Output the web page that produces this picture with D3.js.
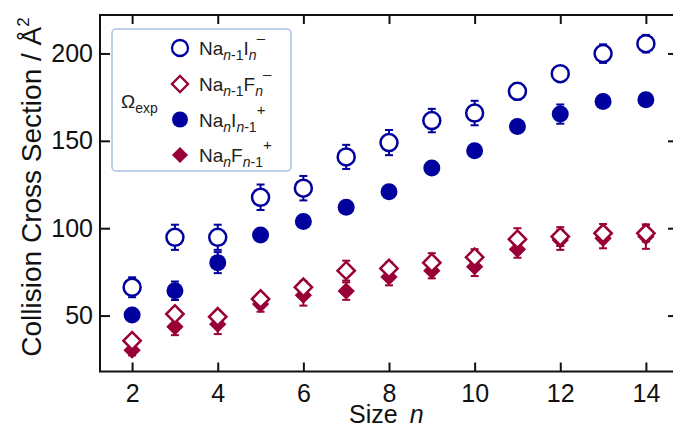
<!DOCTYPE html>
<html>
<head>
<meta charset="utf-8">
<script src="https://cdnjs.cloudflare.com/ajax/libs/d3/7.8.5/d3.min.js"></script>
<style>
  body { margin: 0; background: #fff; }
  svg { display: block; font-family: "Liberation Sans", Arial, sans-serif; }
  .axis path, .axis line { stroke: #111; stroke-width: 2; }
  .axis text { font-size: 25px; fill: #111; }
</style>
</head>
<body>
<svg id="chart" width="673" height="428"></svg>
<script>
  // cluster size n
  const sizes = [2, 3, 4, 5, 6, 7, 8, 9, 10, 11, 12, 13, 14]

  // Na(n-1)I(n) anions, open circles
  const naiAnion    = [66.2, 94.8, 94.8, 117.7, 122.9, 140.8, 149.0, 161.6, 165.9, 178.3, 188.4, 199.9, 205.6]
  const naiAnionErr = [5.7, 7.2, 7.2, 7.3, 7.0, 6.9, 7.2, 6.7, 7.0, 4.8, 3.0, 5.3, 5.0]
  // Na(n-1)F(n) anions, open diamonds
  const nafAnion    = [35.6, 50.9, 49.3, 59.5, 66.2, 75.7, 77.0, 80.3, 83.4, 93.7, 95.2, 97.1, 97.1]
  const nafAnionErr = [3.0, 3.0, 3.0, 3.0, 3.5, 5.7, 3.5, 5.4, 4.6, 6.3, 5.4, 5.3, 4.8]
  // Na(n)I(n-1) cations, filled circles
  const naiCation    = [50.3, 64.2, 80.3, 96.1, 103.8, 112.0, 120.8, 134.4, 144.3, 158.2, 165.3, 172.5, 173.5]
  const naiCationErr = [3.0, 5.3, 6.0, 3.0, 3.0, 3.0, 3.0, 3.0, 3.0, 3.0, 5.5, 3.0, 3.0]
  // Na(n)F(n-1) cations, filled diamonds
  const nafCation    = [30.2, 43.6, 45.1, 56.6, 61.7, 64.0, 72.1, 75.7, 78.0, 87.9, 93.3, 94.2, 95.2]
  const nafCationErr = [3.0, 4.8, 5.7, 4.4, 6.0, 5.0, 4.8, 4.4, 5.4, 4.8, 5.7, 5.7, 7.0]

  const xTicks = [2, 4, 6, 8, 10, 12, 14]
  const yTicks = [50, 100, 150, 200]

  const blue = '#00009e'
  const red = '#990038'

  const plotLeft = 100, plotRight = 678, plotTop = 15, plotBottom = 371.5

  const svg = d3.select('#chart')

  const x = d3.scaleLinear().domain([1.25, 14.75]).range([plotLeft, plotRight])
  const y = d3.scaleLinear().domain([18, 222]).range([plotBottom, plotTop])

  // axes, ticks pointing in
  svg.append('g')
    .attr('class', 'axis')
    .attr('transform', 'translate(0,' + plotBottom + ')')
    .call(d3.axisBottom(x).tickValues(xTicks).tickSizeInner(-9).tickSizeOuter(0).tickPadding(13))
  svg.append('g')
    .attr('class', 'axis')
    .attr('transform', 'translate(0,' + plotTop + ')')
    .call(d3.axisTop(x).tickValues(xTicks).tickSizeInner(-9).tickSizeOuter(0).tickFormat(''))
  svg.append('g')
    .attr('class', 'axis')
    .attr('transform', 'translate(' + plotLeft + ',0)')
    .call(d3.axisLeft(y).tickValues(yTicks).tickSizeInner(-10).tickSizeOuter(0).tickPadding(7))
  svg.append('g')
    .attr('class', 'axis')
    .attr('transform', 'translate(' + plotRight + ',0)')
    .call(d3.axisRight(y).tickValues(yTicks).tickSizeInner(-10).tickSizeOuter(0).tickFormat(''))
  svg.selectAll('.axis .domain').remove()

  svg.append('rect')
    .attr('x', plotLeft).attr('y', plotTop)
    .attr('width', plotRight - plotLeft).attr('height', plotBottom - plotTop)
    .attr('fill', 'none').attr('stroke', '#111').attr('stroke-width', 2)

  // axis titles
  const yTitle = svg.append('text')
    .attr('transform', 'translate(41,187) rotate(-90)')
    .attr('text-anchor', 'middle')
    .style('font-size', '28px')
    .attr('fill', '#111')
  yTitle.append('tspan').text('Collision Cross Section / Å')
  yTitle.append('tspan').attr('dy', -12).style('font-size', '17px').text('2')

  const xTitle = svg.append('text')
    .attr('x', 349).attr('y', 422.5)
    .style('font-size', '25px')
    .attr('fill', '#111')
  xTitle.append('tspan').text('Size')
  xTitle.append('tspan').attr('dx', 12).style('font-style', 'italic').text('n')

  const circle = d3.symbol().type(d3.symbolCircle).size(Math.PI * 8.5 * 8.5)
  const square = d3.symbol().type(d3.symbolSquare).size(150)

  function drawSeries(vals, errs, color, shape, filled) {
    const g = svg.append('g')
    const rows = sizes.map(function(n, i) {
      return { n: n, v: vals[i], e: errs[i] }
    })
    const bars = g.selectAll('g.err').data(rows).enter().append('g')
      .attr('stroke', color).attr('stroke-width', 2)
    bars.append('line')
      .attr('x1', function(d) { return x(d.n) }).attr('x2', function(d) { return x(d.n) })
      .attr('y1', function(d) { return y(d.v - d.e) }).attr('y2', function(d) { return y(d.v + d.e) })
    bars.append('line')
      .attr('x1', function(d) { return x(d.n) - 4 }).attr('x2', function(d) { return x(d.n) + 4 })
      .attr('y1', function(d) { return y(d.v - d.e) }).attr('y2', function(d) { return y(d.v - d.e) })
    bars.append('line')
      .attr('x1', function(d) { return x(d.n) - 4 }).attr('x2', function(d) { return x(d.n) + 4 })
      .attr('y1', function(d) { return y(d.v + d.e) }).attr('y2', function(d) { return y(d.v + d.e) })

    g.selectAll('path.pt').data(rows).enter().append('path')
      .attr('d', shape === 'circle' ? circle() : square())
      .attr('transform', function(d) {
        return 'translate(' + x(d.n) + ',' + y(d.v) + ')' + (shape === 'circle' ? '' : ' rotate(45)')
      })
      .attr('fill', filled ? color : '#fff')
      .attr('stroke', color)
      .attr('stroke-width', filled ? 0 : 2.5)
  }

  drawSeries(naiCation, naiCationErr, blue, 'circle', true)
  drawSeries(naiAnion, naiAnionErr, blue, 'circle', false)
  drawSeries(nafCation, nafCationErr, red, 'diamond', true)
  drawSeries(nafAnion, nafAnionErr, red, 'diamond', false)

  // legend
  const lg = svg.append('g')
  lg.append('rect')
    .attr('x', 112).attr('y', 29).attr('width', 179).attr('height', 142)
    .attr('rx', 4)
    .attr('fill', '#fff').attr('stroke', '#a8c0e4').attr('stroke-width', 1.5)

  const omega = lg.append('text').attr('x', 121).attr('y', 108)
    .style('font-size', '19px').attr('fill', '#222')
  omega.append('tspan').text('Ω')
  omega.append('tspan').attr('dy', 5).style('font-size', '14px').text('exp')

  const legendRows = [
    { y: 48, shape: 'circle', filled: false, color: blue,
      parts: [['Na', 0], ['n', 1], ['-1', 1], ['I', 0], ['n', 1], ['\u2013', 2]] },
    { y: 84, shape: 'diamond', filled: false, color: red,
      parts: [['Na', 0], ['n', 1], ['-1', 1], ['F', 0], ['n', 1], ['\u2013', 2]] },
    { y: 119.5, shape: 'circle', filled: true, color: blue,
      parts: [['Na', 0], ['n', 1], ['I', 0], ['n', 1], ['-1', 1], ['+', 2]] },
    { y: 155, shape: 'diamond', filled: true, color: red,
      parts: [['Na', 0], ['n', 1], ['F', 0], ['n', 1], ['-1', 1], ['+', 2]] }
  ]

  legendRows.forEach(function(r) {
    lg.append('path')
      .attr('d', r.shape === 'circle' ? d3.symbol().type(d3.symbolCircle).size(Math.PI * 8 * 8)() : d3.symbol().type(d3.symbolSquare).size(130)())
      .attr('transform', 'translate(180,' + r.y + ')' + (r.shape === 'circle' ? '' : ' rotate(45)'))
      .attr('fill', r.filled ? r.color : '#fff')
      .attr('stroke', r.color)
      .attr('stroke-width', r.filled ? 0 : 2.3)
    const t = lg.append('text').attr('x', 199).attr('y', r.y + 7)
      .style('font-size', '19px').attr('fill', '#222')
    let level = 0
    r.parts.forEach(function(p) {
      const target = p[1] === 1 ? 5 : (p[1] === 2 ? -12 : 0)
      const sp = t.append('tspan').attr('dy', target - level).text(p[0])
      level = target
      if (p[1] === 1) sp.style('font-size', '14px')
      if (p[1] === 2) sp.style('font-size', '15px')
      if (p[0] === 'n') sp.style('font-style', 'italic')
    })
  })
</script>
</body>
</html>
